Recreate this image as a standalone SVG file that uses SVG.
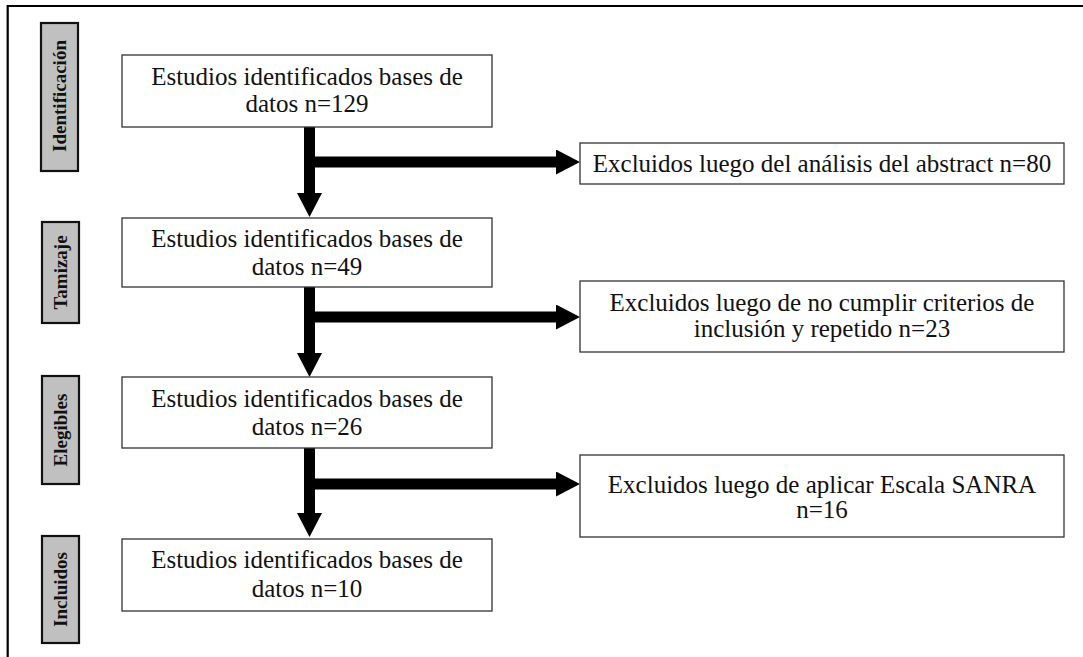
<svg xmlns="http://www.w3.org/2000/svg" width="1083" height="657" viewBox="0 0 1083 657">
<defs>
<style>
.frame{fill:none;stroke:#000;stroke-width:2.2}
.stage{fill:#c0c0c0;stroke:#111;stroke-width:2.2}
.stxt{font-family:"Liberation Serif","Times New Roman",serif;font-weight:bold;font-size:19px;fill:#111;text-anchor:middle}
.box{fill:#fff;stroke:#333;stroke-width:1.3}
.txt{font-family:"Liberation Serif","Times New Roman",serif;font-size:25px;fill:#111;text-anchor:middle}
.conn{fill:none;stroke:#000;stroke-width:11}
</style>
<marker id="ah" markerUnits="userSpaceOnUse" viewBox="0 0 24 25" refX="0" refY="12.5" markerWidth="24" markerHeight="25" orient="auto">
<path d="M0,0 L24,12.5 L0,25 z" fill="#000"/>
</marker>
</defs>
<rect width="1083" height="657" fill="#fff"/>
<path class="frame" d="M7.7,660 V6 H1090"/>

<g id="stage-identificacion"><rect class="stage" x="41" y="23" width="37" height="148"/><text class="stxt" transform="translate(66,96) rotate(-90)">Identificación</text></g>
<g id="stage-tamizaje"><rect class="stage" x="42" y="222" width="37" height="101"/><text class="stxt" transform="translate(67,272.5) rotate(-90)">Tamizaje</text></g>
<g id="stage-elegibles"><rect class="stage" x="42" y="376" width="37" height="108"/><text class="stxt" transform="translate(67,430) rotate(-90)">Elegibles</text></g>
<g id="stage-incluidos"><rect class="stage" x="42" y="536" width="37" height="107"/><text class="stxt" transform="translate(67,589.5) rotate(-90)">Incluidos</text></g>

<g id="connectors">
<path class="conn" d="M309.5,127 V193" marker-end="url(#ah)"/>
<path class="conn" d="M304,162 H556" marker-end="url(#ah)"/>
<path class="conn" d="M309.5,287 V353" marker-end="url(#ah)"/>
<path class="conn" d="M304,317 H556" marker-end="url(#ah)"/>
<path class="conn" d="M309.5,448 V513" marker-end="url(#ah)"/>
<path class="conn" d="M304,484 H556" marker-end="url(#ah)"/>
</g>

<g id="box1"><rect class="box" x="122" y="55" width="370" height="72"/><text class="txt" x="307" y="85">Estudios identificados bases de</text><text class="txt" x="307" y="112">datos n=129</text></g>
<g id="box2"><rect class="box" x="122" y="218" width="370" height="69"/><text class="txt" x="307" y="247">Estudios identificados bases de</text><text class="txt" x="307" y="275">datos n=49</text></g>
<g id="box3"><rect class="box" x="122" y="377" width="370" height="71"/><text class="txt" x="307" y="407">Estudios identificados bases de</text><text class="txt" x="307" y="435">datos n=26</text></g>
<g id="box4"><rect class="box" x="122" y="539" width="370" height="72"/><text class="txt" x="307" y="568">Estudios identificados bases de</text><text class="txt" x="307" y="597">datos n=10</text></g>

<g id="excl1"><rect class="box" x="580" y="143" width="484" height="41"/><text class="txt" x="822" y="172">Excluidos luego del análisis del abstract n=80</text></g>
<g id="excl2"><rect class="box" x="580" y="281" width="484" height="71"/><text class="txt" x="822" y="311">Excluidos luego de no cumplir criterios de</text><text class="txt" x="822" y="337">inclusión y repetido n=23</text></g>
<g id="excl3"><rect class="box" x="580" y="455" width="484" height="82"/><text class="txt" x="822" y="493">Excluidos luego de aplicar Escala SANRA</text><text class="txt" x="822" y="518">n=16</text></g>
</svg>
